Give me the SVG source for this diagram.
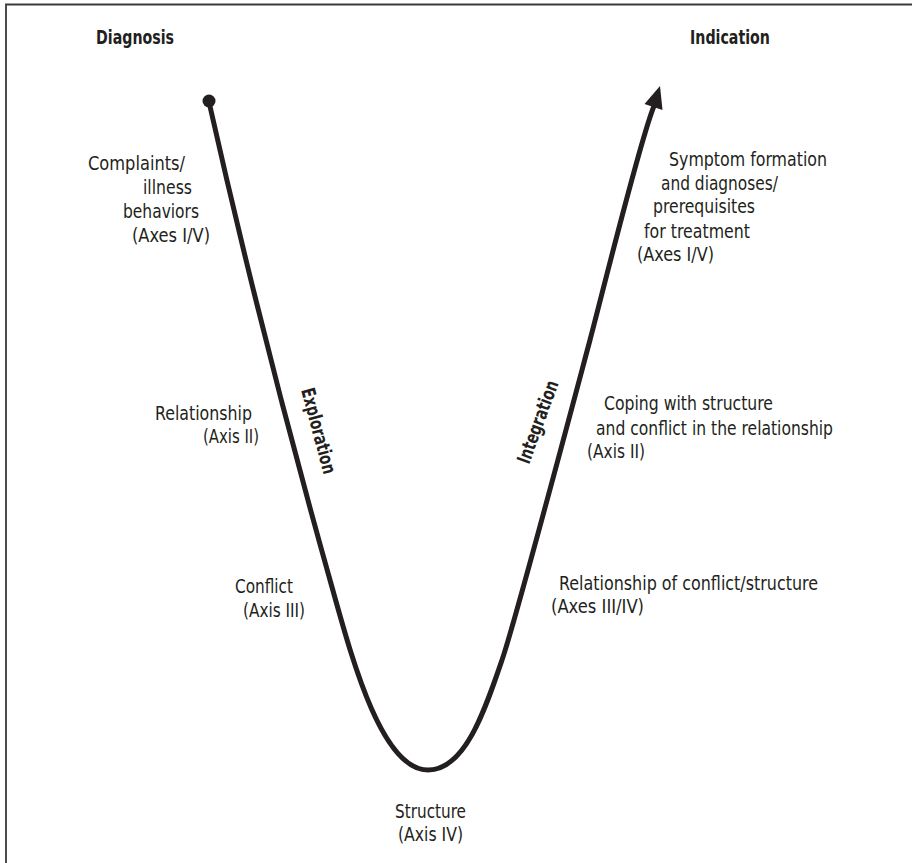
<svg xmlns="http://www.w3.org/2000/svg" width="912" height="863" viewBox="0 0 912 863">
<style>
text{font-family:"Liberation Sans Narrow","DejaVu Sans Condensed","Liberation Sans",sans-serif;font-size:19px;fill:#231f20}
.b{font-weight:bold}
.curve{fill:none;stroke:#231f20;stroke-width:5;stroke-linecap:round}
</style>
<rect width="912" height="863" fill="#fff"/>
<path d="M6,863 L6,4.5 L912,4.5" fill="none" stroke="#3a3a3a" stroke-width="1.8"/>
<g id="connectors">
<path class="curve" d="M209,102 C240,240 285,420 330,580 C350,651 380,770 428,770 C465,770 485,710 502,660 C515,622 550,490 590,340 C600.7,300 640,140 654,106"/>
<circle cx="209" cy="101" r="6.5" fill="#231f20"/>
<polygon points="660,86 644.5,104 662.5,110" fill="#231f20"/>
</g>
<g id="diagnosis"><text class="b" x="96" y="44" textLength="78" lengthAdjust="spacingAndGlyphs">Diagnosis</text></g>
<g id="indication"><text class="b" x="690" y="44" textLength="80" lengthAdjust="spacingAndGlyphs">Indication</text></g>
<g id="complaints">
<text x="88" y="170" textLength="97" lengthAdjust="spacingAndGlyphs">Complaints/</text>
<text x="143" y="194" textLength="49" lengthAdjust="spacingAndGlyphs">illness</text>
<text x="123" y="218" textLength="76" lengthAdjust="spacingAndGlyphs">behaviors</text>
<text x="132" y="242" textLength="78" lengthAdjust="spacingAndGlyphs">(Axes I/V)</text>
</g>
<g id="relationship">
<text x="155" y="420" textLength="97" lengthAdjust="spacingAndGlyphs">Relationship</text>
<text x="203" y="443" textLength="56" lengthAdjust="spacingAndGlyphs">(Axis II)</text>
</g>
<g id="conflict">
<text x="235" y="593" textLength="58" lengthAdjust="spacingAndGlyphs">Conflict</text>
<text x="243" y="617" textLength="62" lengthAdjust="spacingAndGlyphs">(Axis III)</text>
</g>
<g id="structure">
<text x="395" y="818" textLength="71" lengthAdjust="spacingAndGlyphs">Structure</text>
<text x="398" y="841" textLength="65" lengthAdjust="spacingAndGlyphs">(Axis IV)</text>
</g>
<g id="exploration">
<text class="b" transform="translate(301,390) rotate(75)" textLength="88" lengthAdjust="spacingAndGlyphs">Exploration</text>
</g>
<g id="integration">
<text class="b" transform="translate(529,465) rotate(-70)" textLength="87" lengthAdjust="spacingAndGlyphs">Integration</text>
</g>
<g id="symptom">
<text x="669" y="166" textLength="158" lengthAdjust="spacingAndGlyphs">Symptom formation</text>
<text x="661" y="190" textLength="117" lengthAdjust="spacingAndGlyphs">and diagnoses/</text>
<text x="653" y="213" textLength="102" lengthAdjust="spacingAndGlyphs">prerequisites</text>
<text x="644" y="238" textLength="106" lengthAdjust="spacingAndGlyphs">for treatment</text>
<text x="637" y="261" textLength="77" lengthAdjust="spacingAndGlyphs">(Axes I/V)</text>
</g>
<g id="coping">
<text x="604" y="410" textLength="169" lengthAdjust="spacingAndGlyphs">Coping with structure</text>
<text x="596" y="435" textLength="237" lengthAdjust="spacingAndGlyphs">and conflict in the relationship</text>
<text x="587" y="458" textLength="58" lengthAdjust="spacingAndGlyphs">(Axis II)</text>
</g>
<g id="relconflict">
<text x="559" y="590" textLength="259" lengthAdjust="spacingAndGlyphs">Relationship of conflict/structure</text>
<text x="551" y="613" textLength="93" lengthAdjust="spacingAndGlyphs">(Axes III/IV)</text>
</g>
</svg>
